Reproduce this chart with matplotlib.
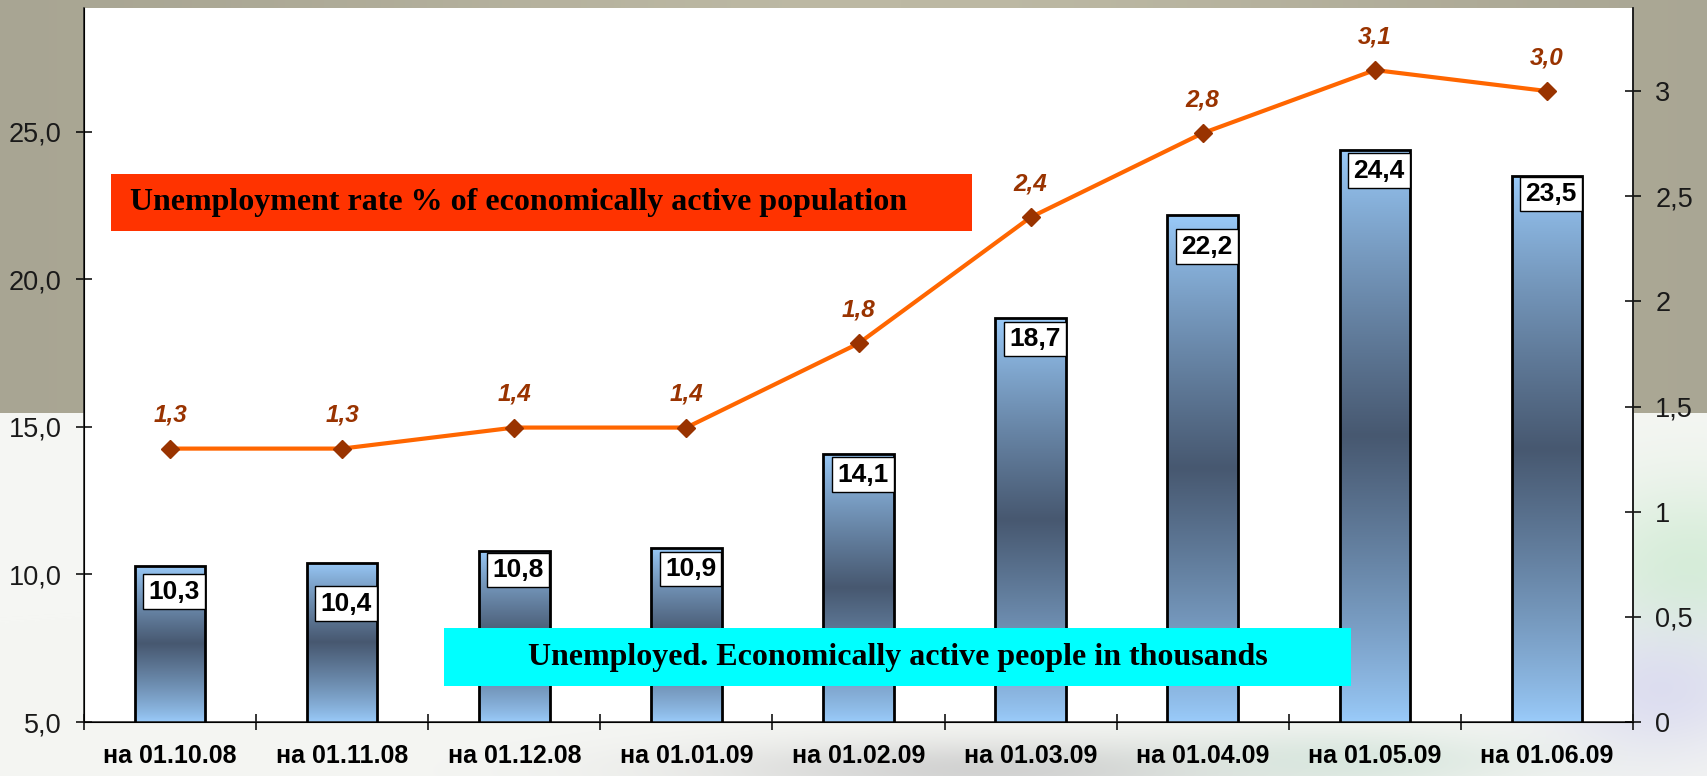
import numpy as np
import matplotlib
matplotlib.use("Agg")
import matplotlib.pyplot as plt
from matplotlib.patches import Rectangle
from matplotlib.colors import to_rgb
from matplotlib.ticker import FixedLocator, FuncFormatter

dates = ["на 01.10.08", "на 01.11.08", "на 01.12.08", "на 01.01.09", "на 01.02.09",
         "на 01.03.09", "на 01.04.09", "на 01.05.09", "на 01.06.09"]
unemployed = [10.3, 10.4, 10.8, 10.9, 14.1, 18.7, 22.2, 24.4, 23.5]
rate = [1.3, 1.3, 1.4, 1.4, 1.8, 2.4, 2.8, 3.1, 3.0]
left_ticks = [5, 10, 15, 20, 25]
right_ticks = [0, 0.5, 1, 1.5, 2, 2.5, 3]

# how far each value box sits below its bar top (px)
box_drop_px = [8, 23, 1, 3, 3, 3, 14, 3, 0]

W, H = 1707, 776
fig = plt.figure(figsize=(W / 100, H / 100), dpi=100)

# slide background behind the chart
bg = fig.add_axes([0, 0, 1, 1], zorder=-10)
bg.axis("off")
yy, xx = np.mgrid[0:H, 0:W].astype(float)
img = np.ones((H, W, 3)) * np.array(to_rgb("#f5f6f3"))
gray_l = np.array(to_rgb("#a7a492"))
gray_m = np.array(to_rgb("#bdb9a4"))
mix = np.exp(-((xx - 900) / 550) ** 2)[..., None]
top = gray_l * (1 - mix) + gray_m * mix
img = np.where((yy < 413)[..., None], top, img)


def blob(img, cx, cy, rx, ry, color, strength=1.0):
    w = strength * np.exp(-(((xx - cx) / rx) ** 2 + ((yy - cy) / ry) ** 2))[..., None]
    w = np.where((yy >= 413)[..., None], w, 0)
    return img * (1 - w) + np.array(to_rgb(color)) * w


img = blob(img, 1690, 570, 120, 90, "#d3ecd6", 0.9)
img = blob(img, 1660, 690, 110, 70, "#d8d8f0", 0.8)
img = blob(img, 1000, 770, 300, 30, "#c9c9c9", 0.8)
img = blob(img, 1350, 760, 180, 30, "#d5e6dc", 0.8)
bg.imshow(img, extent=[0, 1, 0, 1], aspect="auto", interpolation="nearest")
bg.set_xlim(0, 1)
bg.set_ylim(0, 1)

ax = fig.add_axes([84 / W, 1 - 722 / H, (1633 - 84) / W, (722 - 8) / H])
ax.set_facecolor("white")
x = np.arange(len(dates))
ylo, yhi = 5, 29.2

light = np.array(to_rgb("#9acbfa"))
dark = np.array(to_rgb("#475870"))
t = np.linspace(0, 1, 200)
wgt = (1 - np.abs(2 * t - 1)) ** 0.85
grad = (light[None, :] * (1 - wgt[:, None]) + dark[None, :] * wgt[:, None])[:, None, :]

bars = ax.bar(x, unemployed, width=0.41, facecolor="none", edgecolor="black",
              linewidth=2, zorder=3)
for b in bars:
    x0, bw, h = b.get_x(), b.get_width(), b.get_height()
    im = ax.imshow(grad, extent=[x0, x0 + bw, ylo, h], origin="lower",
                   aspect="auto", zorder=2, interpolation="bilinear")
    im.set_clip_path(b)

for i, v in enumerate(unemployed):
    ax.annotate(f"{v:.1f}".replace(".", ","), xy=(x[i], v),
                xytext=(3, -(box_drop_px[i] + 6) * 0.72), textcoords="offset points",
                ha="center", va="top", fontsize=19, fontweight="bold",
                family="Liberation Sans", color="black", zorder=5,
                bbox=dict(boxstyle="square,pad=0.2", fc="white", ec="black", lw=1))

ax.set_xlim(-0.5, len(dates) - 0.5)
ax.set_ylim(ylo, yhi)
ax.set_yticks(left_ticks)
ax.yaxis.set_major_formatter(FuncFormatter(lambda v, p: f"{v:.1f}".replace(".", ",")))
ax.tick_params(axis="y", direction="inout", length=12, width=1.1, pad=10,
               labelsize=19.5, labelcolor="#1a1a1a")
ax.set_xticks(x)
ax.set_xticklabels(dates, fontsize=18, fontweight="bold", family="Liberation Sans")
ax.tick_params(axis="x", which="major", length=0, pad=16)
ax.xaxis.set_minor_locator(FixedLocator(np.arange(len(dates) + 1) - 0.5))
ax.tick_params(axis="x", which="minor", direction="inout", length=12, width=1.1)
for lab in ax.get_yticklabels():
    lab.set_family("Liberation Sans")
ax.spines["top"].set_visible(False)
for s in ("left", "bottom", "right"):
    ax.spines[s].set_linewidth(1.1)
    ax.spines[s].set_color("#1a1a1a")

ax2 = ax.twinx()
ax2.set_ylim(0, 3.395)
ax2.plot(x, rate, color="#ff6600", linewidth=3, marker="D", markersize=9,
         markerfacecolor="#993300", markeredgecolor="#993300", zorder=4)
for i, v in enumerate(rate):
    ax2.annotate(f"{v:.1f}".replace(".", ","), xy=(x[i], v), xytext=(0, 24),
                 textcoords="offset points", ha="center", va="center",
                 fontsize=17.5, fontweight="bold", fontstyle="italic",
                 family="Liberation Sans", color="#993300")
ax2.set_yticks(right_ticks)
ax2.yaxis.set_major_formatter(FuncFormatter(lambda v, p: f"{v:g}".replace(".", ",")))
ax2.tick_params(axis="y", direction="inout", length=12, width=1.1, pad=10,
                labelsize=19.5, labelcolor="#1a1a1a")
for lab in ax2.get_yticklabels():
    lab.set_family("Liberation Sans")
ax2.spines["top"].set_visible(False)
ax2.spines["right"].set_linewidth(1.1)
ax2.spines["right"].set_color("#1a1a1a")

# caption boxes
ax2.add_patch(Rectangle((0.0174, 0.6877), 0.5558, 0.0798, transform=ax2.transAxes,
                        facecolor="#ff3300", edgecolor="none", zorder=6))
ax2.text(0.030, 0.7276, "Unemployment rate % of economically active population",
         transform=ax2.transAxes, ha="left", va="center", fontsize=23,
         fontweight="bold", family="Liberation Serif", color="black", zorder=7)
ax2.add_patch(Rectangle((0.2324, 0.0504), 0.5856, 0.0813, transform=ax2.transAxes,
                        facecolor="#00ffff", edgecolor="none", zorder=6))
ax2.text(0.5252, 0.091, "Unemployed. Economically active people in thousands",
         transform=ax2.transAxes, ha="center", va="center", fontsize=23,
         fontweight="bold", family="Liberation Serif", color="black", zorder=7)

fig.savefig("out.png", dpi=100)
